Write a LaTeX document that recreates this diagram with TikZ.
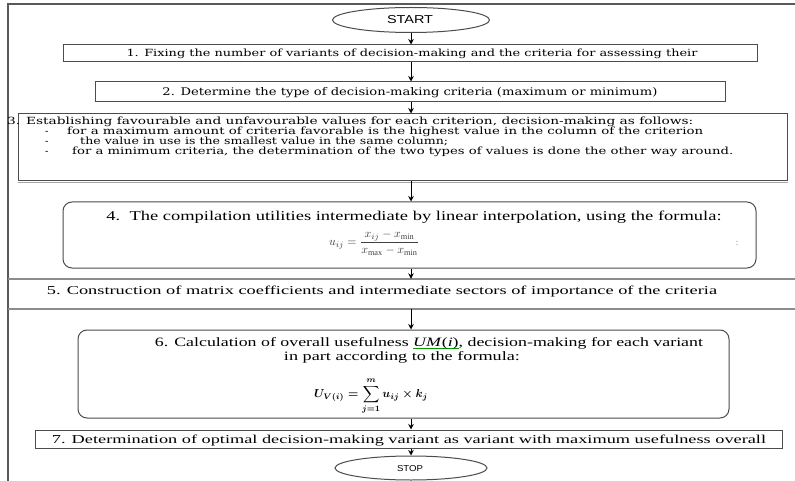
\documentclass[tikz,border=0pt]{standalone}
\usepackage{fontspec}
\usepackage{graphicx}
\usepackage{amsmath}
\setmainfont{Liberation Serif}
\newfontfamily\dvs{DejaVu Serif}
\newfontfamily\las{Liberation Sans}
\usetikzlibrary{shapes.geometric,arrows.meta}
\newcommand\fitt[3]{\resizebox{#1pt}{#2pt}{#3}}
\newcommand\gunder[1]{{\setbox0\hbox{#1}\rlap{\color{green!60!black}\rule[-1.8pt]{\wd0}{0.6pt}}\box0}}
\begin{document}
\begin{tikzpicture}[x=1pt,y=-1pt,
  frameline/.style={draw=black!65, line width=1.6pt},
  box/.style={draw=black!70, line width=1pt, rectangle, inner sep=0pt},
  rbox/.style={box, rounded corners=9pt},
  term/.style={ellipse, draw=black!70, line width=1pt, inner sep=0pt},
  txt/.style={inner sep=0pt, anchor=base},
  txtl/.style={inner sep=0pt, anchor=base west},
  arr/.style={-{Stealth[length=5.5pt,width=5.5pt]}, line width=1pt, black},
  gline/.style={draw=black!45, line width=2.2pt}]
\fill[white] (0,0) rectangle (795,481);
\useasboundingbox (0,0) rectangle (795,481);
% frame
\draw[frameline] (8,481) -- (8,4) -- (795,4);
% start
\node[term, minimum width=157pt, minimum height=25pt] (start) at (411,20) {};
\node[txt] (startt) at (410,24) {\las\fitt{46}{8}{START}};
% box 1
\node[box, minimum width=694pt, minimum height=17pt] (b1) at (410,53.5) {};
\node[txt] (t1) at (412,57) {\dvs\fitt{571}{7.5}{1. Fixing the number of variants of decision-making and the criteria for assessing their}};
% box 2
\node[box, minimum width=630pt, minimum height=20pt] (b2) at (410,92) {};
\node[txt] (t2) at (410,96) {\dvs\fitt{495}{8}{2. Determine the type of decision-making criteria (maximum or minimum)}};
% box 3
\node[box, minimum width=769pt, minimum height=67pt] (b3) at (402.5,147.5) {};
\draw[draw=black!35, line width=1pt] ([yshift=-1.5pt]b3.south west) -- ([yshift=-1.5pt]b3.south east);
\node[txtl] (t3a) at (7,125) {\dvs\fitt{686}{7.5}{3. Establishing favourable and unfavourable values for each criterion, decision-making as follows:}};
\node[txtl] (d3b) at (45,135) {\dvs -};
\node[txtl] (t3b) at (67,135) {\dvs\fitt{636}{7.5}{for a maximum amount of criteria favorable is the highest value in the column of the criterion}};
\node[txtl] (d3c) at (45,145) {\dvs -};
\node[txtl] (t3c) at (80,145) {\dvs\fitt{368}{7.5}{the value in use is the smallest value in the same column;}};
\node[txtl] (d3d) at (45,155) {\dvs -};
\node[txtl] (t3d) at (72,155) {\dvs\fitt{661}{7.5}{for a minimum criteria, the determination of the two types of values is done the other way around.}};
% box 4
\node[rbox, minimum width=693pt, minimum height=66pt] (b4) at (409.5,235) {};
\node[txt] (t4) at (414,220) {\fitt{615}{9.5}{4.\ \ The compilation utilities intermediate by linear interpolation, using the formula:}};
\node[inner sep=0pt, text=black!75] (f4) at (374,243) {\resizebox{90pt}{!}{$u_{ij}=\dfrac{x_{ij}-x_{\min}}{x_{\max}-x_{\min}}$}};
\node[inner sep=0pt, text=black!50] (c4) at (737,243) {\fontsize{9}{9}\selectfont :};
% box 5
\node[inner sep=0pt, minimum width=787pt, minimum height=30pt] (b5) at (401.5,294) {};
\draw[gline] (b5.north west) -- (b5.north east);
\draw[gline] (b5.south west) -- (b5.south east);
\node[txt] (t5) at (382,294.5) {\fitt{670}{8.5}{5. Construction of matrix coefficients and intermediate sectors of importance of the criteria}};
% box 6
\node[rbox, minimum width=651pt, minimum height=88pt] (b6) at (403.5,374) {};
\node[txt] (t6a) at (429,346) {\fitt{548}{9}{6. Calculation of overall usefulness \gunder{\textit{UM}(\textit{i})}, decision-making for each variant}};
\node[txt] (t6b) at (402,360) {\fitt{236}{9}{in part according to the formula:}};
\node[inner sep=0pt] (f6) at (371,396) {\resizebox{114pt}{!}{$\displaystyle \boldsymbol{U_{V(i)}=\sum_{j=1}^{m}u_{ij}\times k_j}$}};
% box 7
\node[box, minimum width=747pt, minimum height=18pt] (b7) at (408.5,439) {};
\node[txt] (t7) at (409,443) {\fitt{714}{8.5}{7. Determination of optimal decision-making variant as variant with maximum usefulness overall}};
% stop
\node[term, minimum width=152pt, minimum height=24pt] (stop) at (411,468) {};
\node[txt] (stopt) at (410,471) {\las\fitt{26}{6}{STOP}};
% arrows
\draw[arr] (start.south) -- (b1.north -| start.south);
\draw[arr] (b1.south -| start.south) -- (b2.north -| start.south);
\draw[arr] (b2.south -| start.south) -- (b3.north -| start.south);
\draw[arr] (b3.south -| start.south) -- (b4.north -| start.south);
\draw[arr] (b4.south -| start.south) -- (b5.north -| start.south);
\draw[arr] (b5.south -| start.south) -- (b6.north -| start.south);
\draw[arr] (b6.south -| start.south) -- (b7.north -| start.south);
\draw[arr] (b7.south -| start.south) -- (stop.north);
\end{tikzpicture}
\end{document}
